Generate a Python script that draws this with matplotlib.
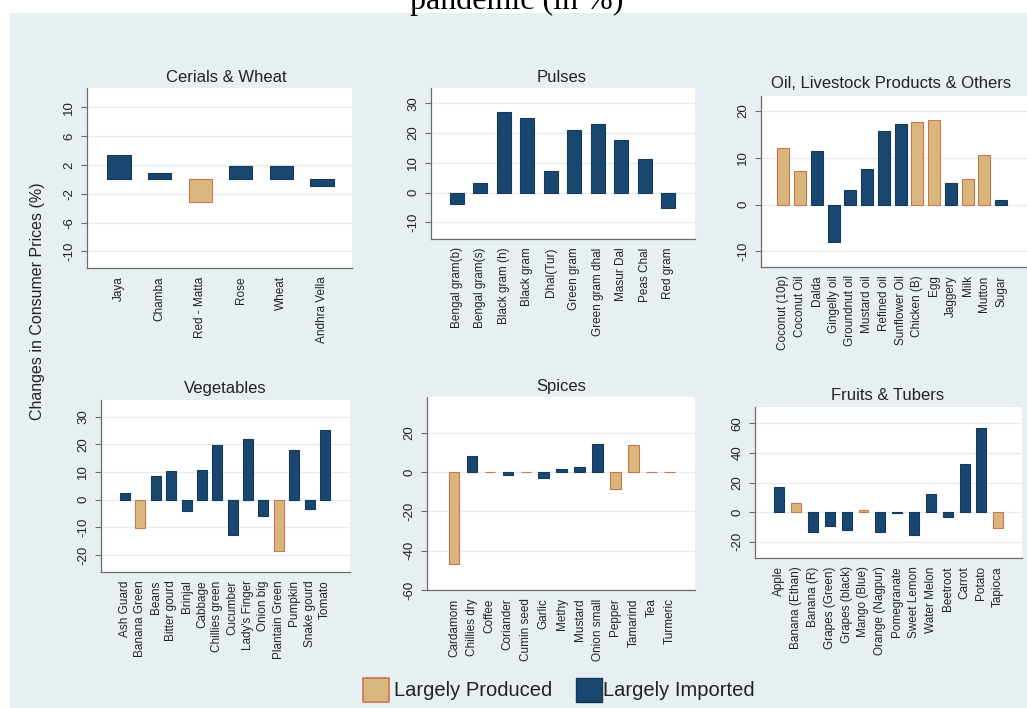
import matplotlib
matplotlib.use("Agg")
import matplotlib.pyplot as plt
from matplotlib.patches import Rectangle

plt.rcParams['font.family'] = ['Liberation Sans', 'DejaVu Sans']

W, H = 1027, 708
BLUE = '#1a476f'
TAN = '#d9b67d'
TAN_EDGE = '#c9774c'
BG = '#e8eff2'
GRID = '#e4ecef'
AX = '#6b6b6b'

# ---------------- data ----------------
cer_labels = ["Jaya", "Chamba", "Red - Matta", "Rose", "Wheat", "Andhra Vella"]
cer_values = [3.4, 0.9, -3.1, 1.8, 1.8, -0.9]
cer_type = ["I", "I", "P", "I", "I", "I"]

pul_labels = ["Bengal gram(b)", "Bengal gram(s)", "Black gram (h)", "Black gram",
              "Dhal(Tur)", "Green gram", "Green gram dhal", "Masur Dal", "Peas Chal", "Red gram"]
pul_values = [-3.8, 3.1, 26.9, 25.0, 7.3, 21.1, 23.0, 17.7, 11.4, -5.3]
pul_type = ["I"] * 10

oil_labels = ["Coconut (10p)", "Coconut Oil", "Dalda", "Gingelly oil", "Groundnut oil",
              "Mustard oil", "Refined oil", "Sunflower Oil", "Chicken (B)", "Egg",
              "Jaggery", "Milk", "Mutton", "Sugar"]
oil_values = [12.0, 7.1, 11.4, -7.9, 3.1, 7.5, 15.6, 17.1, 17.5, 17.9, 4.5, 5.4, 10.6, 0.9]
oil_type = ["P", "P", "I", "I", "I", "I", "I", "I", "P", "P", "I", "P", "P", "I"]

veg_labels = ["Ash Guard", "Banana Green", "Beans", "Bitter gourd", "Brinjal", "Cabbage",
              "Chillies green", "Cucumber", "Lady's Finger", "Onion big", "Plantain Green",
              "Pumpkin", "Snake gourd", "Tomato"]
veg_values = [2.3, -10.1, 8.6, 10.5, -4.1, 10.6, 19.9, -12.7, 22.0, -5.8, -18.4, 18.0, -3.4, 25.2]
veg_type = ["I", "P", "I", "I", "I", "I", "I", "I", "I", "I", "P", "I", "I", "I"]

spi_labels = ["Cardamom", "Chillies dry", "Coffee", "Coriander", "Cumin seed", "Garlic",
              "Methy", "Mustard", "Onion small", "Pepper", "Tamarind", "Tea", "Turmeric"]
spi_values = [-46.6, 8.4, 0.2, -1.2, 0.2, -3.0, 1.5, 2.5, 14.5, -8.8, 14.0, 0.2, 0.2]
spi_type = ["P", "I", "P", "I", "P", "I", "I", "I", "I", "P", "P", "P", "P"]

fru_labels = ["Apple", "Banana (Ethan)", "Banana (R)", "Grapes (Green)", "Grapes (black)",
              "Mango (Blue)", "Orange (Nagpur)", "Pomegranate", "Sweet Lemon", "Water Melon",
              "Beetroot", "Carrot", "Potato", "Tapioca"]
fru_values = [17.1, 5.9, -13.5, -9.2, -12.2, 1.2, -13.7, -0.8, -15.8, 12.2, -3.4, 32.7, 56.8, -11.0]
fru_type = ["I", "P", "I", "I", "I", "P", "I", "I", "I", "I", "I", "I", "I", "P"]

# ---------------- layout ----------------
fig = plt.figure(figsize=(W / 100, H / 100), dpi=100)
fig.patch.set_facecolor('white')
fig.add_artist(Rectangle((10 / W, 0), 1 - 10 / W, (H - 13) / H,
                         transform=fig.transFigure, facecolor=BG, edgecolor='none', zorder=0))


def px_axes(l, t, r, b):
    return fig.add_axes([l / W, 1 - b / H, (r - l) / W, (b - t) / H])


panels = [
    ("Cerials & Wheat", cer_labels, cer_values, cer_type, (87, 88, 352, 268),
     [-10, -6, -2, 2, 6, 10], (-12.3, 12.7), 0.79, 0.74, 0.57, (226, 78)),
    ("Pulses", pul_labels, pul_values, pul_type, (431, 88, 695, 239),
     [-10, 0, 10, 20, 30], (-15.6, 35.1), 1.09, 1.13, 0.6, (562, 77)),
    ("Oil, Livestock Products & Others", oil_labels, oil_values, oil_type, (761, 96, 1027, 267),
     [-10, 0, 10, 20], (-13.3, 23.1), 1.33, 1.55, 0.72, (891, 83)),
    ("Vegetables", veg_labels, veg_values, veg_type, (101, 400, 350, 572),
     [-20, -10, 0, 10, 20, 30], (-26.1, 36.0), 1.56, 1.63, 0.65, (225, 389)),
    ("Spices", spi_labels, spi_values, spi_type, (427, 397, 695, 590),
     [-60, -40, -20, 0, 20], (-59.0, 38.3), 1.5, 1.43, 0.58, (561, 386)),
    ("Fruits & Tubers", fru_labels, fru_values, fru_type, (755, 407, 1022, 558),
     [-20, 0, 20, 40, 60], (-31, 71), 1.44, 1.41, 0.59, (888, 395)),
]

for title, labels, values, types, box, yt, ylim, lo, ro, bw, tpos in panels:
    ax = px_axes(*box)
    ax.set_facecolor('white')
    n = len(labels)
    x = list(range(n))
    fcs = [TAN if t == "P" else BLUE for t in types]
    ecs = [TAN_EDGE if t == "P" else '#15395a' for t in types]
    ax.bar(x, values, width=bw, color=fcs, edgecolor=ecs, linewidth=0.8, zorder=3)
    ax.set_xlim(-lo, n - 1 + ro)
    ax.set_ylim(*ylim)
    ax.set_yticks(yt)
    ax.set_yticklabels([str(v) for v in yt])
    ax.set_xticks(x)
    ax.set_xticklabels(labels, rotation=90, fontsize=8.5, color='#222222')
    for lab in ax.get_xticklabels():
        lab.set_va('top')
        lab.set_ha('center')
    for lab in ax.get_yticklabels():
        lab.set_rotation(90)
        lab.set_va('center')
        lab.set_ha('right')
        lab.set_fontsize(9.5)
        lab.set_color('#222222')
    ax.tick_params(axis='x', length=0, pad=6)
    ax.tick_params(axis='y', length=4.5, width=0.8, color=AX, pad=4)
    ax.grid(axis='y', color=GRID, linewidth=0.9, zorder=0)
    ax.set_axisbelow(True)
    for s in ['top', 'right']:
        ax.spines[s].set_visible(False)
    for s in ['left', 'bottom']:
        ax.spines[s].set_color(AX)
        ax.spines[s].set_linewidth(0.9)
    fig.text(tpos[0] / W, 1 - tpos[1] / H, title, ha='center', va='center',
             fontsize=12, color='#222222')

# y label
fig.text(38 / W, 1 - 301 / H, "Changes in Consumer Prices (%)", rotation=90,
         ha='center', va='center', fontsize=11.5, color='#222222')

# cropped headline at top
fig.text(517 / W, 1 - 9 / H, "pandemic (in %)", ha='center', va='baseline',
         fontsize=23, family=['Liberation Serif', 'DejaVu Serif'], color='black', zorder=5)

# legend
fig.add_artist(Rectangle((363 / W, 1 - 702 / H), 26 / W, 24 / H, transform=fig.transFigure,
                         facecolor=TAN, edgecolor=TAN_EDGE, linewidth=1.2, zorder=3))
fig.text(394 / W, 1 - 690 / H, "Largely Produced", ha='left', va='center',
         fontsize=14.5, color='#222222')
fig.add_artist(Rectangle((576 / W, 1 - 702 / H), 26 / W, 24 / H, transform=fig.transFigure,
                         facecolor=BLUE, edgecolor='#15395a', linewidth=1.0, zorder=3))
fig.text(603 / W, 1 - 690 / H, "Largely Imported", ha='left', va='center',
         fontsize=14.5, color='#222222')

fig.savefig("out.png", dpi=100, facecolor=fig.get_facecolor())
